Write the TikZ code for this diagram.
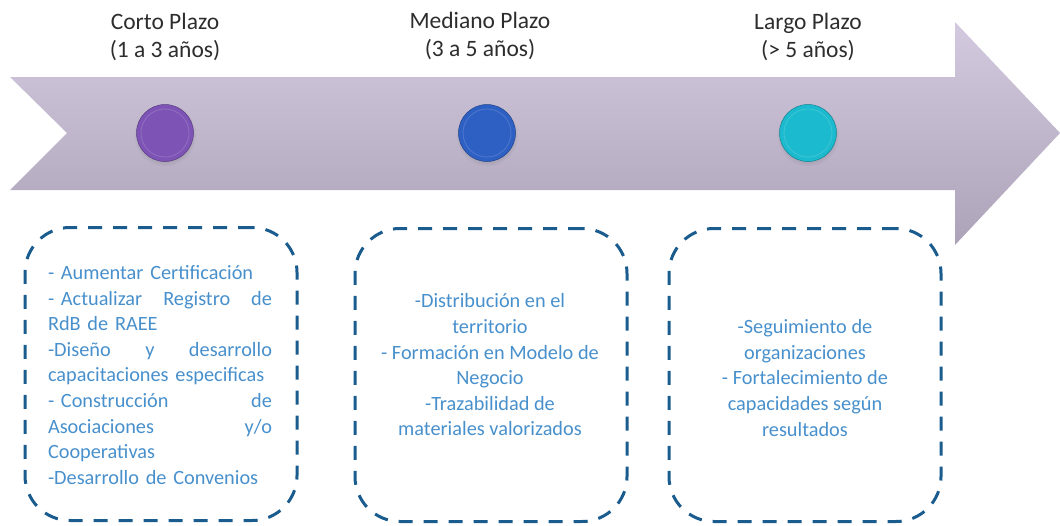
\documentclass[tikz,border=0pt]{standalone}
\usepackage{fontspec}
\setmainfont{Carlito}
\usetikzlibrary{positioning,shadows}

\definecolor{flechaarriba}{RGB}{212,202,224}
\definecolor{flechaabajo}{RGB}{172,163,185}
\definecolor{morado}{RGB}{125,84,182}
\definecolor{azul}{RGB}{46,96,196}
\definecolor{turquesa}{RGB}{28,186,206}
\definecolor{borde}{RGB}{26,92,142}
\definecolor{textoazul}{RGB}{72,144,204}
\definecolor{titulo}{RGB}{45,45,45}

\newcommand{\lineajust}[1]{\makebox[224pt][s]{#1}}

\tikzset{
    punto/.style={circle, minimum size=57pt, inner sep=0pt, fill=#1, draw=#1!70!black, line width=0.5pt,
        circular drop shadow={shadow xshift=0pt, shadow yshift=-2pt, opacity=0.25},
        path picture={\draw[#1!75!white, line width=0.8pt, opacity=0.6] (path picture bounding box.center) circle (24pt);}},
    titulo/.style={align=center, text=titulo, font=\fontsize{23.5}{27.5}\selectfont, inner sep=0pt},
    caja/.style={draw=borde, line width=3pt, dash pattern=on 14pt off 11pt, rounded corners=45pt,
        minimum width=272pt, minimum height=293pt, inner sep=0pt},
    textocaja/.style={text=textoazul, font=\fontsize{20.3}{25.6}\selectfont, inner sep=0pt}
}

\begin{document}
\begin{tikzpicture}[x=1pt, y=-1pt] %linea de tiempo
    \useasboundingbox (0,0) rectangle (1060,525);

    \shade[top color=flechaarriba, bottom color=flechaabajo]
        (10,77) -- (955,77) -- (955,22) -- (1060,133) -- (955,245) -- (955,190) -- (10,190) -- (67,133) -- cycle;

    \node[punto=morado] (corto) at (165,133) {};
    \node[punto=azul] (mediano) at (487,133) {};
    \node[punto=turquesa] (largo) at (808,133) {};

    \node[titulo] (tcorto) at (165,37) {Corto Plazo\\(1 a 3 años)};
    \node[titulo] (tmediano) at (480,36) {Mediano Plazo\\(3 a 5 años)};
    \node[titulo] (tlargo) at (808,37) {Largo Plazo\\(> 5 años)};

    \node[caja] (ccorto) at (161,374) {};
    \node[caja] (cmediano) at (491,375) {};
    \node[caja] (clargo) at (805,375) {};

    \node[textocaja, text width=224pt, align=left] (lcorto) at (160,375) {- Aumentar Certificación\\
        \lineajust{-\ Actualizar\hfill Registro\hfill de}\\
        RdB de RAEE\\
        \lineajust{-Diseño\hfill y\hfill desarrollo}\\
        capacitaciones especificas\\
        \lineajust{-\ Construcción\hfill de}\\
        \lineajust{Asociaciones\hfill y/o}\\
        Cooperativas\\
        -Desarrollo de Convenios};
    \node[textocaja, align=center] (lmediano) at (490,365) {-Distribución en el\\territorio\\- Formación en Modelo de\\Negocio\\-Trazabilidad de\\materiales valorizados};
    \node[textocaja, align=center] (llargo) at (805,378) {-Seguimiento de\\organizaciones\\- Fortalecimiento de\\capacidades según\\resultados};
\end{tikzpicture}
\end{document}
